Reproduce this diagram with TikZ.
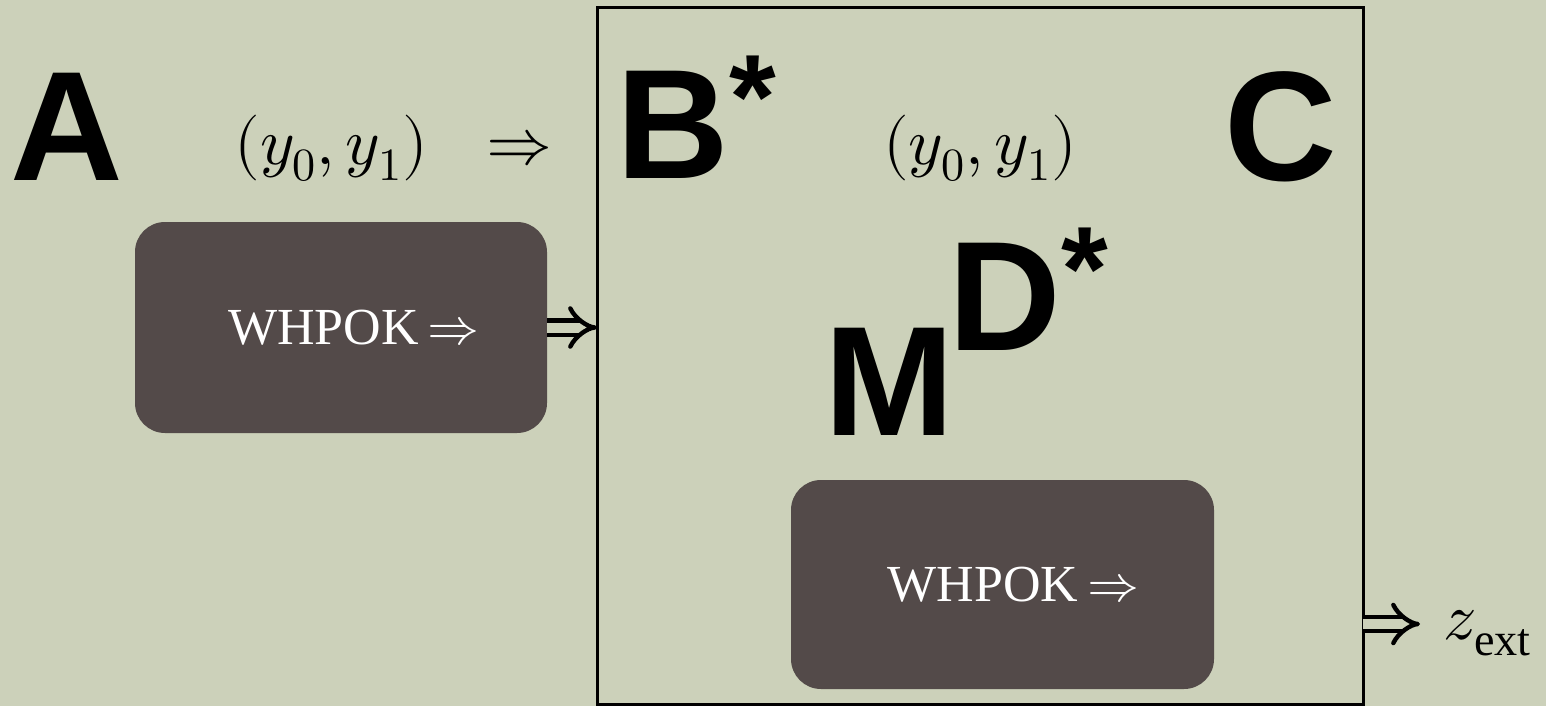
\documentclass[tikz,border=0pt]{standalone}
\usepackage{unicode-math}
\setmainfont{Liberation Serif}
\newfontfamily\headfont{Liberation Sans}
\usetikzlibrary{arrows.meta,positioning}
\definecolor{bg}{HTML}{CCD1BA}
\definecolor{boxdark}{HTML}{534A49}
\newcommand{\upstar}{\raisebox{20pt}{\fontsize{60}{60}\selectfont*}}
\begin{document}
\begin{tikzpicture}[x=0.5pt,y=-0.5pt,
  big/.style={font=\headfont\bfseries\fontsize{78}{78}\selectfont,inner sep=0pt},
  pair/.style={font=\fontsize{33}{33}\selectfont,inner sep=0pt},
  panel/.style={fill=boxdark,rounded corners=15pt,inner sep=0pt,text=white,
    font=\fontsize{26}{26}\selectfont},
  imp/.style={line width=2.2pt,double=bg,double distance=5pt,
    -{Implies[length=9pt,width=18pt]}}]
\fill[bg] (0,0) rectangle (1546,706);
\useasboundingbox (0,0) rectangle (1546,706);
% outer frame
\node[draw,line width=1.5pt,minimum width=383pt,minimum height=348pt,
  inner sep=0pt,outer sep=0pt] (frame) at (980,356) {};
% big letters
\node[big,anchor=base west] (A) at (10,180) {A};
\node[big,anchor=base west] (B) at (616,178) {B\upstar};
\node[big,anchor=base east] (C) at (1338,180) {C};
\node[big,anchor=base west] (M) at (824,435) {M};
\node[big,anchor=base west] (D) at (948,350) {D\upstar};
% pairs
\node[pair,anchor=base west] (yA) at (234,164) {$(y_0,y_1)\hspace{20pt}\Rightarrow$};
\node[pair,anchor=base] (yB) at (980,164) {$(y_0,y_1)$};
% panels
\node[panel,minimum width=206pt,minimum height=105.5pt] (p1) at (341,327.5)
  {\hspace*{13pt}WHPOK\,$\Rightarrow$};
\node[panel,minimum width=211.5pt,minimum height=104.5pt] (p2) at (1002.5,584.5)
  {\hspace*{11pt}WHPOK\,$\Rightarrow$};
% output
\node[pair,anchor=west] (zext) at (1443,633) {$z_{\mathrm{ext}}$};
\coordinate (zin) at ([xshift=-11.5pt,yshift=4.5pt]zext.west);
\draw[imp] (p1.east) -- (p1.east -| frame.west);
\draw[imp] (frame.east |- zin) -- (zin);
\end{tikzpicture}
\end{document}
